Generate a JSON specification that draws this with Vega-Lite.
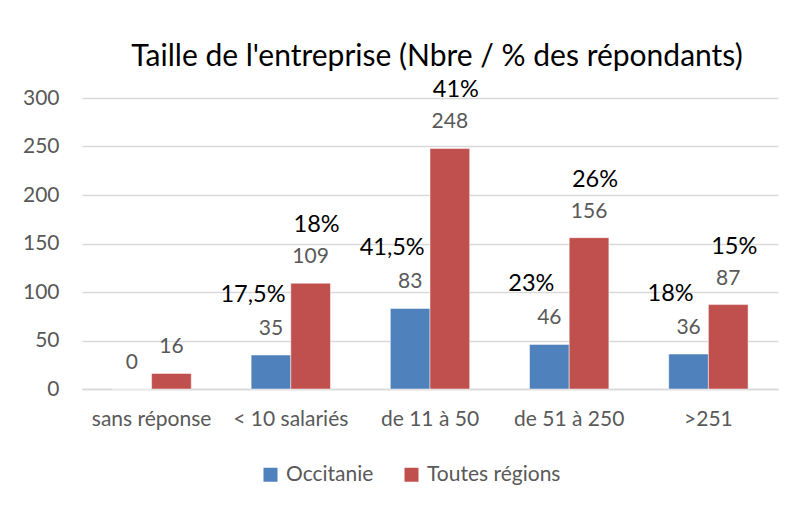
{
  "$schema": "https://vega.github.io/schema/vega-lite/v6.json",
  "width": 696,
  "height": 291,
  "autosize": {"type": "none"},
  "padding": {"left": 82, "top": 98, "right": 20, "bottom": 120},
  "background": "white",
  "title": {
    "text": "Taille de l'entreprise (Nbre / % des répondants)",
    "font": "Lato",
    "fontSize": 30,
    "fontWeight": "normal",
    "color": "#000000",
    "anchor": "middle",
    "dx": 7,
    "offset": 6
  },
  "config": {
    "view": {"stroke": null},
    "font": "Lato"
  },
  "data": {
    "values": [
      {"cat": "sans réponse", "serie": "Occitanie", "n": 0, "pct": ""},
      {"cat": "sans réponse", "serie": "Toutes régions", "n": 16, "pct": ""},
      {"cat": "< 10 salariés", "serie": "Occitanie", "n": 35, "pct": "17,5%"},
      {"cat": "< 10 salariés", "serie": "Toutes régions", "n": 109, "pct": "18%"},
      {"cat": "de 11 à 50", "serie": "Occitanie", "n": 83, "pct": "41,5%"},
      {"cat": "de 11 à 50", "serie": "Toutes régions", "n": 248, "pct": "41%"},
      {"cat": "de 51 à 250", "serie": "Occitanie", "n": 46, "pct": "23%"},
      {"cat": "de 51 à 250", "serie": "Toutes régions", "n": 156, "pct": "26%"},
      {"cat": ">251", "serie": "Occitanie", "n": 36, "pct": "18%"},
      {"cat": ">251", "serie": "Toutes régions", "n": 87, "pct": "15%"}
    ]
  },
  "encoding": {
    "x": {
      "field": "cat",
      "type": "nominal",
      "sort": ["sans réponse", "< 10 salariés", "de 11 à 50", "de 51 à 250", ">251"],
      "scale": {"paddingInner": 0.43, "paddingOuter": 0.215},
      "axis": {
        "title": null,
        "labelAngle": 0,
        "labelFont": "Lato",
        "labelFontSize": 21,
        "labelColor": "#595959",
        "labelPadding": 19,
        "ticks": false,
        "domainColor": "#D9D9D9",
        "domainWidth": 1.5,
        "grid": false
      }
    },
    "xOffset": {"field": "serie", "sort": ["Occitanie", "Toutes régions"]}
  },
  "layer": [
    {
      "mark": {"type": "bar", "stroke": "#FFFFFF", "strokeWidth": 0.8, "strokeOpacity": 0.6},
      "encoding": {
        "y": {
          "field": "n",
          "type": "quantitative",
          "scale": {"domain": [0, 300], "nice": false},
          "axis": {
            "title": null,
            "values": [0, 50, 100, 150, 200, 250, 300],
            "labelFont": "Lato",
            "labelFontSize": 21,
            "labelColor": "#595959",
            "labelPadding": 23,
            "ticks": false,
            "domain": false,
            "gridColor": "#D9D9D9",
            "gridWidth": 1.3
          }
        },
        "color": {
          "field": "serie",
          "type": "nominal",
          "sort": ["Occitanie", "Toutes régions"],
          "scale": {"domain": ["Occitanie", "Toutes régions"], "range": ["#4F81BD", "#C0504D"]},
          "legend": {
            "title": null,
            "orient": "none",
            "direction": "horizontal",
            "legendX": 178,
            "legendY": 366,
            "symbolType": "square",
            "symbolSize": 196,
            "symbolStrokeWidth": 0,
            "labelFont": "Lato",
            "labelFontSize": 21,
            "labelColor": "#595959",
            "columnPadding": 27,
            "labelOffset": 5
          }
        }
      }
    },
    {
      "mark": {"type": "text", "baseline": "middle", "dy": -26, "fontSize": 21, "font": "Lato", "color": "#595959"},
      "encoding": {
        "y": {"field": "n", "type": "quantitative"},
        "text": {"field": "n", "type": "quantitative"}
      }
    },
    {
      "transform": [{"filter": "datum.serie == 'Occitanie'"}],
      "mark": {"type": "text", "baseline": "middle", "dy": -60, "dx": -18, "fontSize": 23.5, "font": "Lato", "color": "#000000"},
      "encoding": {
        "y": {"field": "n", "type": "quantitative"},
        "text": {"field": "pct", "type": "nominal"}
      }
    },
    {
      "transform": [{"filter": "datum.serie == 'Toutes régions'"}],
      "mark": {"type": "text", "baseline": "middle", "dy": -58, "dx": 6, "fontSize": 23.5, "font": "Lato", "color": "#000000"},
      "encoding": {
        "y": {"field": "n", "type": "quantitative"},
        "text": {"field": "pct", "type": "nominal"}
      }
    }
  ]
}
